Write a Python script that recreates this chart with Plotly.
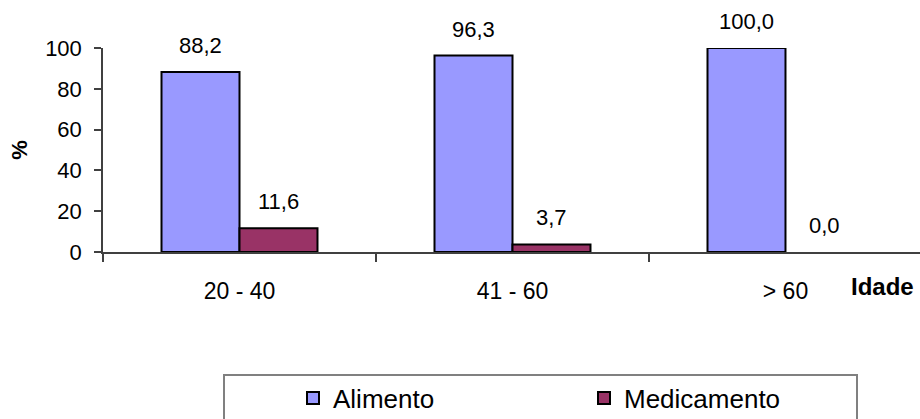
import plotly.graph_objects as go

# Age groups and share (%) of each type of exposure
categories = ["20 - 40", "41 - 60", "> 60"]
alimento = [88.2, 96.3, 100.0]
medicamento = [11.6, 3.7, 0.0]

series_names = ["Alimento", "Medicamento"]
series_colors = ["#9999FF", "#993366"]

FONT = "Liberation Sans, Arial, sans-serif"

W, H = 920, 419
ML, MR, MT, MB = 103, 0, 48, 167
plot_w = W - ML - MR
plot_h = H - MT - MB


def px_x(p):
    return (p - ML) / plot_w


def px_y(p):
    return (H - MB - p) / plot_h


fig = go.Figure()
for name, vals, color in zip(series_names, [alimento, medicamento], series_colors):
    fig.add_trace(go.Bar(
        x=categories, y=vals, name=name,
        marker=dict(
            color=color,
            # empty bars get no outline
            line=dict(color="black", width=[2 if v > 0 else 0 for v in vals]),
        ),
        hoverinfo="x+y+name",
    ))

# value labels above each bar
bar_px = plot_w / 2.9927 * (1 - 0.4286) / 2
annotations = []
for k, vals in enumerate([alimento, medicamento]):
    shift = -bar_px / 2 if k == 0 else bar_px / 2
    for cat, v in zip(categories, vals):
        annotations.append(dict(
            x=cat, y=v, xref="x", yref="y",
            text=f"{v:.1f}".replace(".", ","),
            showarrow=False, xshift=shift, yanchor="bottom", yshift=12,
            font=dict(family=FONT, size=22, color="black"),
        ))

annotations.append(dict(
    x=1, y=px_y(286), xref="paper", yref="paper", xanchor="right", yanchor="middle",
    xshift=-4, text="<b>Idade</b>", showarrow=False,
    font=dict(family=FONT, size=24, color="black"),
))

fig.update_layout(
    width=W, height=H,
    margin=dict(l=ML, r=MR, t=MT, b=MB, pad=0, autoexpand=False),
    paper_bgcolor="white", plot_bgcolor="white",
    barmode="group", bargap=0.4286, bargroupgap=0,
    font=dict(family=FONT, size=22, color="black"),
    annotations=annotations,
    showlegend=True,
    legend=dict(
        orientation="h", x=px_x(293), xanchor="left",
        y=px_y(398), yanchor="middle",
        entrywidth=246, entrywidthmode="pixels",
        font=dict(family=FONT, size=26, color="black"),
        bgcolor="rgba(0,0,0,0)", borderwidth=0,
    ),
    shapes=[dict(
        type="rect", xref="paper", yref="paper",
        x0=px_x(224), x1=px_x(857), y0=px_y(450), y1=px_y(375),
        line=dict(color="#808080", width=2), fillcolor="rgba(0,0,0,0)",
        layer="below",
    )],
)

fig.update_xaxes(
    type="category", range=[-0.5, 2.4927],
    showline=True, linecolor="#404040", linewidth=1.5,
    ticks="outside", tickson="boundaries", ticklen=8, tickcolor="#404040", tickwidth=1.5,
    ticklabelstandoff=18, showgrid=False, zeroline=False,
    tickfont=dict(family=FONT, size=23, color="black"),
)
fig.update_yaxes(
    range=[0, 100], dtick=20, tick0=0,
    showline=True, linecolor="#404040", linewidth=1.5,
    ticks="outside", ticklen=7, tickcolor="#404040", tickwidth=1.5,
    ticklabelstandoff=8, showgrid=False, zeroline=False,
    tickfont=dict(family=FONT, size=22, color="black"),
    title=dict(text="<b>%</b>", standoff=11, font=dict(family=FONT, size=22, color="black")),
)

fig.write_html("out.html")
